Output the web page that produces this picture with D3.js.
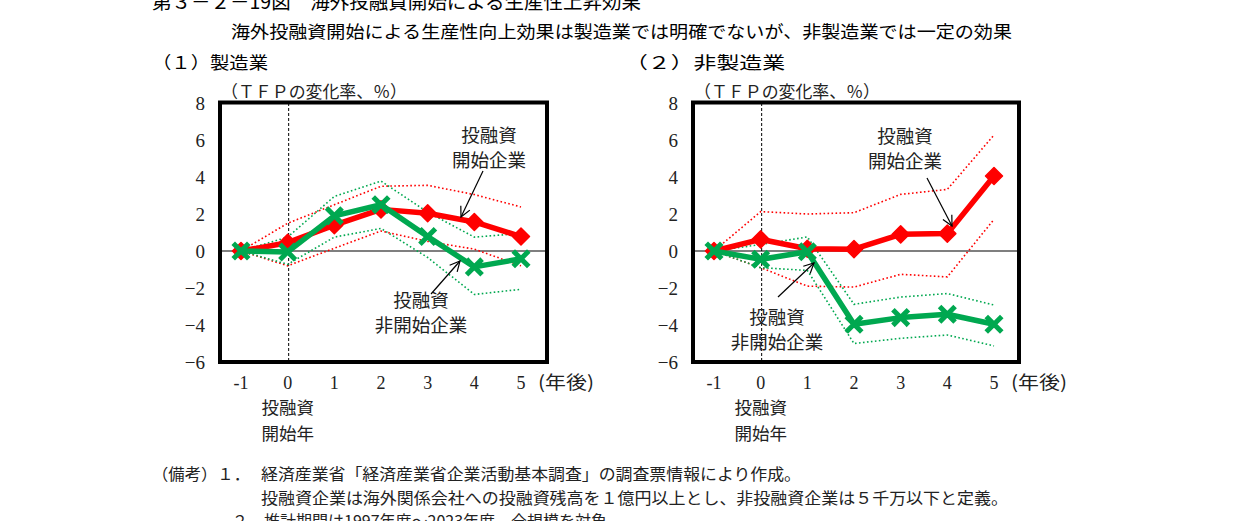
<!DOCTYPE html>
<html><head><meta charset="utf-8">
<script src="https://cdn.jsdelivr.net/npm/d3@7"></script>
<style>
body{margin:0;background:#fff;}
svg{display:block;}
.jp{font-family:"Noto Sans CJK JP","Noto Sans",sans-serif;}
.num{font-family:"Liberation Serif","DejaVu Serif",serif;}
</style></head>
<body>
<svg id="c" width="1241" height="521"></svg>
<script>
// ---- data ----
const years = [-1, 0, 1, 2, 3, 4, 5];
const yTicks = [8, 6, 4, 2, 0, -2, -4, -6];

// (1) manufacturing
const mfgStart   = [0, 0.45, 1.40, 2.25, 2.04, 1.57, 0.78];
const mfgStartHi = [0, 1.50, 2.50, 3.50, 3.55, 3.05, 2.38];
const mfgStartLo = [0, -0.80, 0.15, 1.08, 0.52, 0.10, -0.80];
const mfgNon     = [0, -0.05, 1.90, 2.50, 0.78, -0.86, -0.42];
const mfgNonHi   = [0, 0.75, 2.95, 3.78, 2.10, 0.75, 0.95];
const mfgNonLo   = [0, -0.72, 0.75, 1.22, -0.35, -2.35, -2.07];

// (2) non-manufacturing
const nonStart   = [0, 0.63, 0.12, 0.10, 0.90, 0.94, 4.05];
const nonStartHi = [0, 2.13, 2.00, 2.07, 3.06, 3.33, 6.27];
const nonStartLo = [0, -0.90, -1.90, -1.95, -1.26, -1.40, 1.71];
const nonNon     = [0, -0.45, -0.04, -3.96, -3.60, -3.42, -3.96];
const nonNonHi   = [0, 0.35, 0.76, -2.88, -2.49, -2.30, -2.92];
const nonNonLo   = [0, -0.90, -1.05, -5.00, -4.72, -4.54, -5.13];

const RED = "#ff0000", GREEN = "#00a850";

const svg = d3.select("#c");

// ---- titles ----
svg.append("text").attr("class","jp").attr("x",152).attr("y",9).attr("font-size",19.5)
  .text("第３－２－19図　海外投融資開始による生産性上昇効果");
svg.append("text").attr("class","jp").attr("x",231).attr("y",38).attr("font-size",17.5)
  .attr("textLength",781).attr("lengthAdjust","spacingAndGlyphs")
  .text("海外投融資開始による生産性向上効果は製造業では明確でないが、非製造業では一定の効果");

// ---- marker defs ----
const defs = svg.append("defs");
defs.append("marker").attr("id","arr").attr("viewBox","0 0 12 12").attr("refX",11).attr("refY",6)
  .attr("markerWidth",12).attr("markerHeight",12).attr("markerUnits","userSpaceOnUse").attr("orient","auto")
  .append("path").attr("d","M1,1 L11,6 L1,11").attr("fill","none").attr("stroke","#000").attr("stroke-width",1.2);

function panel(opt){
  const g = svg.append("g");
  const x = d3.scaleLinear().domain([-1,5]).range(opt.xr);
  const y = d3.scaleLinear().domain([-6,8]).range([362,103]);

  g.append("text").attr("class","jp").attr("x",opt.titleX).attr("y",69).attr("font-size",17)
    .attr("textLength",opt.titleW).attr("lengthAdjust","spacingAndGlyphs").text(opt.title);
  g.append("text").attr("class","jp").attr("x",opt.box[0]+1).attr("y",98).attr("font-size",17)
    .attr("textLength",186).attr("lengthAdjust","spacingAndGlyphs")
    .attr("fill","#222").text("（ＴＦＰの変化率、％）");

  // y tick labels
  g.append("g").selectAll("text").data(yTicks).join("text").attr("class","num")
    .attr("x",opt.box[0]-15).attr("y",d=>y(d)).attr("dy","0.35em").attr("text-anchor","end")
    .attr("font-size",19).attr("fill","#222").text(d=>d<0?"\u2212"+(-d):d);
  // x tick labels
  g.append("g").selectAll("text").data(years).join("text").attr("class","num")
    .attr("x",d=>x(d)).attr("y",389).attr("text-anchor","middle")
    .attr("font-size",18).attr("fill","#222").text(d=>d);
  g.append("text").attr("class","jp").attr("x",x(5)+17).attr("y",389).attr("font-size",18)
    .attr("textLength",56).attr("lengthAdjust","spacingAndGlyphs")
    .attr("fill","#222").text("(年後)");
  g.append("text").attr("class","jp").attr("x",x(0)).attr("y",414).attr("text-anchor","middle")
    .attr("font-size",17.5).attr("fill","#222").text("投融資");
  g.append("text").attr("class","jp").attr("x",x(0)).attr("y",440).attr("text-anchor","middle")
    .attr("font-size",17.5).attr("fill","#222").text("開始年");

  // zero line & dashed start line
  g.append("line").attr("x1",opt.box[0]).attr("x2",opt.box[1]).attr("y1",y(0)).attr("y2",y(0))
    .attr("stroke","#000").attr("stroke-width",1.2);
  g.append("line").attr("x1",x(0)+1).attr("x2",x(0)+1).attr("y1",103).attr("y2",362)
    .attr("stroke","#000").attr("stroke-width",1).attr("stroke-dasharray","3,2");

  const line = d3.line().x((d,i)=>x(years[i])).y(d=>y(d));
  // dotted bands
  [[opt.sHi,RED],[opt.sLo,RED],[opt.nHi,GREEN],[opt.nLo,GREEN]].forEach(([arr,c])=>{
    g.append("path").attr("d",line(arr)).attr("fill","none").attr("stroke",c)
      .attr("stroke-width",1.6).attr("stroke-dasharray","1.6,2.4");
  });
  // main lines
  const drawOrder = [["s",RED],["n",GREEN]];
  drawOrder.forEach(([k,c])=>{
    const arr = k==="s"?opt.s:opt.n;
    g.append("path").attr("d",line(arr)).attr("fill","none").attr("stroke",c)
      .attr("stroke-width",5.5).attr("stroke-linejoin","round");
    if(k==="s"){
      g.append("g").selectAll("path").data(arr).join("path")
        .attr("transform",(d,i)=>`translate(${x(years[i])},${y(d)})`)
        .attr("d","M0,-8.5 L8.5,0 L0,8.5 L-8.5,0Z").attr("fill",c).attr("stroke",c).attr("stroke-width",1.5).attr("stroke-linejoin","round");
    } else {
      g.append("g").selectAll("path").data(arr).join("path")
        .attr("transform",(d,i)=>`translate(${x(years[i])},${y(d)})`)
        .attr("d","M-6,-6 L6,6 M6,-6 L-6,6").attr("fill","none").attr("stroke",c)
        .attr("stroke-width",5).attr("stroke-linecap","square");
    }
  });

  // box
  g.append("rect").attr("x",opt.box[0]).attr("y",102.5).attr("width",opt.box[1]-opt.box[0]).attr("height",259.5)
    .attr("fill","none").attr("stroke","#000").attr("stroke-width",4);

  // annotations
  opt.notes.forEach(n=>{
    n.lines.forEach((t,i)=>{
      g.append("text").attr("class","jp").attr("x",n.x).attr("y",n.y+i*25).attr("text-anchor","middle")
        .attr("font-size",18.5).attr("fill","#222").text(t);
    });
    g.append("line").attr("x1",n.a[0]).attr("y1",n.a[1]).attr("x2",n.a[2]).attr("y2",n.a[3])
      .attr("stroke","#000").attr("stroke-width",1.2).attr("marker-end","url(#arr)");
  });
}

panel({xr:[241,521], box:[220,547], title:"（１）製造業", titleX:152, titleW:116,
  s:mfgStart, sHi:mfgStartHi, sLo:mfgStartLo, n:mfgNon, nHi:mfgNonHi, nLo:mfgNonLo,
  notes:[
    {lines:["投融資","開始企業"], x:489, y:142, a:[483,171,461,217]},
    {lines:["投融資","非開始企業"], x:421, y:307, a:[431,294,460,261]}
  ]});
panel({xr:[714,994], box:[693,1019], title:"（２）非製造業", titleX:625, titleW:160,
  s:nonStart, sHi:nonStartHi, sLo:nonStartLo, n:nonNon, nHi:nonNonHi, nLo:nonNonLo,
  notes:[
    {lines:["投融資","開始企業"], x:905, y:143, a:[927,178,952,226]},
    {lines:["投融資","非開始企業"], x:777, y:324, a:[778,297,814,263]}
  ]});

// ---- footnotes ----
const fn = svg.append("g").attr("class","jp").attr("font-size",16).attr("fill","#222");
fn.append("text").attr("x",152).attr("y",480).attr("textLength",98).attr("lengthAdjust","spacingAndGlyphs").text("（備考）１．");
fn.append("text").attr("x",261).attr("y",480).attr("textLength",540).attr("lengthAdjust","spacingAndGlyphs")
  .text("経済産業省「経済産業省企業活動基本調査」の調査票情報により作成。");
fn.append("text").attr("x",261).attr("y",504).attr("textLength",747).attr("lengthAdjust","spacingAndGlyphs")
  .text("投融資企業は海外関係会社への投融資残高を１億円以上とし、非投融資企業は５千万以下と定義。");
fn.append("text").attr("x",232).attr("y",527).text("２．推計期間は1997年度～2023年度、全規模を対象。");
</script>
</body></html>
